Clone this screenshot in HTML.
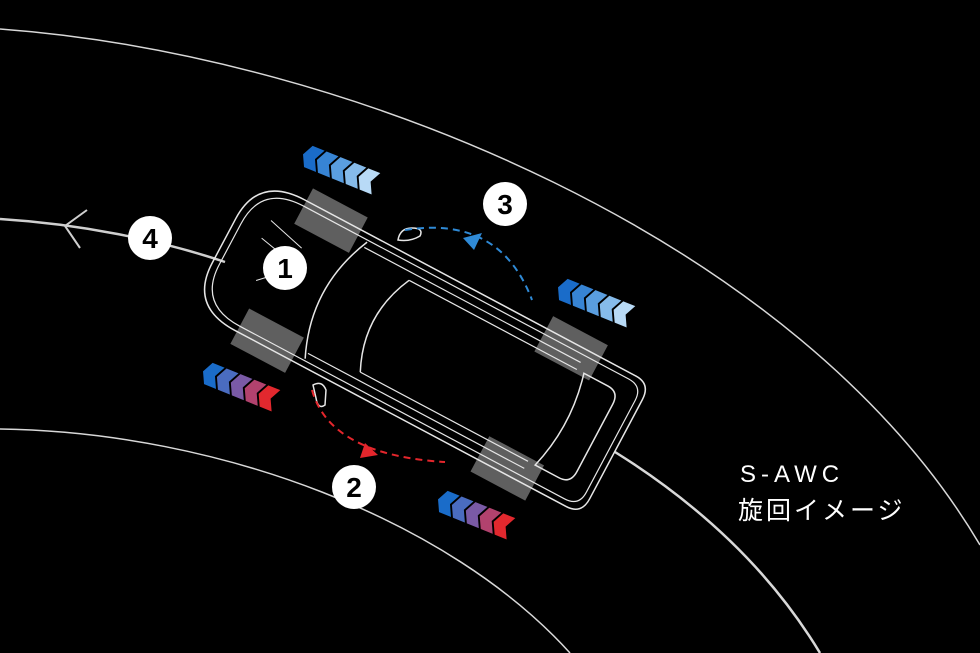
<!DOCTYPE html>
<html><head><meta charset="utf-8"><style>
html,body{margin:0;padding:0;background:#000;}
svg{display:block}
</style></head><body>
<svg width="980" height="653" viewBox="0 0 980 653" xmlns="http://www.w3.org/2000/svg">
<rect width="980" height="653" fill="#000"/>
<path d="M0,29 C350,55 800,240 980,545" fill="none" stroke="#d8d8d8" stroke-width="1.5"/>
<path d="M0,429 C220,432 450,520 570,653" fill="none" stroke="#d8d8d8" stroke-width="1.5"/>
<path d="M0,219 C80,224 160,240 225,262" fill="none" stroke="#cfcfcf" stroke-width="2.5"/>
<path d="M615,452 C700,505 770,570 820,653" fill="none" stroke="#d8d8d8" stroke-width="2.5"/>
<path d="M87,210 L65,226 L80,248" fill="none" stroke="#cfcfcf" stroke-width="2"/>

<g stroke="#000" stroke-width="1" transform="translate(307,143) rotate(22)">
<polygon fill="#1a6cc9" points="6,0 20,0 14,12 20,24 6,24 0,12"/>
<polygon fill="#3784d4" transform="translate(15,0)" points="6,0 20,0 14,12 20,24 6,24 0,12"/>
<polygon fill="#5a9edf" transform="translate(30,0)" points="6,0 20,0 14,12 20,24 6,24 0,12"/>
<polygon fill="#86bbea" transform="translate(45,0)" points="6,0 20,0 14,12 20,24 6,24 0,12"/>
<polygon fill="#b8daf6" transform="translate(60,0)" points="6,0 20,0 14,12 20,24 6,24 0,12"/>
</g>
<g stroke="#000" stroke-width="1" transform="translate(562,276) rotate(22)">
<polygon fill="#1a6cc9" points="6,0 20,0 14,12 20,24 6,24 0,12"/>
<polygon fill="#3784d4" transform="translate(15,0)" points="6,0 20,0 14,12 20,24 6,24 0,12"/>
<polygon fill="#5a9edf" transform="translate(30,0)" points="6,0 20,0 14,12 20,24 6,24 0,12"/>
<polygon fill="#86bbea" transform="translate(45,0)" points="6,0 20,0 14,12 20,24 6,24 0,12"/>
<polygon fill="#b8daf6" transform="translate(60,0)" points="6,0 20,0 14,12 20,24 6,24 0,12"/>
</g>
<g stroke="#000" stroke-width="1" transform="translate(207,360) rotate(22)">
<polygon fill="#1a6cc9" points="6,0 20,0 14,12 20,24 6,24 0,12"/>
<polygon fill="#4a6cc0" transform="translate(15,0)" points="6,0 20,0 14,12 20,24 6,24 0,12"/>
<polygon fill="#7a5aa6" transform="translate(30,0)" points="6,0 20,0 14,12 20,24 6,24 0,12"/>
<polygon fill="#b2426e" transform="translate(45,0)" points="6,0 20,0 14,12 20,24 6,24 0,12"/>
<polygon fill="#e2282e" transform="translate(60,0)" points="6,0 20,0 14,12 20,24 6,24 0,12"/>
</g>
<g stroke="#000" stroke-width="1" transform="translate(442,488) rotate(22)">
<polygon fill="#1a6cc9" points="6,0 20,0 14,12 20,24 6,24 0,12"/>
<polygon fill="#4a6cc0" transform="translate(15,0)" points="6,0 20,0 14,12 20,24 6,24 0,12"/>
<polygon fill="#7a5aa6" transform="translate(30,0)" points="6,0 20,0 14,12 20,24 6,24 0,12"/>
<polygon fill="#b2426e" transform="translate(45,0)" points="6,0 20,0 14,12 20,24 6,24 0,12"/>
<polygon fill="#e2282e" transform="translate(60,0)" points="6,0 20,0 14,12 20,24 6,24 0,12"/>
</g>

<g transform="translate(420,345) rotate(28)" fill="none" stroke="#e6e6e6" stroke-width="1.5">
  <rect x="-168" y="-88" width="62" height="40" fill="#707070" stroke="none" opacity="0.85"/>
  <rect x="-168" y="48" width="62" height="40" fill="#707070" stroke="none" opacity="0.85"/>
  <rect x="104" y="-88" width="62" height="40" fill="#707070" stroke="none" opacity="0.85"/>
  <rect x="104" y="48" width="62" height="40" fill="#707070" stroke="none" opacity="0.85"/>
  <path d="M-170,-74 L205,-74 Q222,-74 222,-56 L222,56 Q222,74 205,74 L-170,74 Q-222,74 -222,25 L-222,-25 Q-222,-74 -170,-74 Z"/>
  <path d="M-168,-68 L200,-68 Q216,-68 216,-52 L216,52 Q216,68 200,68 L-168,68 Q-215,68 -215,23 L-215,-23 Q-215,-68 -168,-68 Z" stroke-width="1.2"/>
  <path d="M-95,-66 Q-125,0 -95,66"/>
  <path d="M-95,-60 L150,-60 M-95,60 L150,60" stroke-width="1.2"/>
  <path d="M-40,-52 Q-65,0 -40,52"/>
  <path d="M-40,-52 L150,-52 M-40,52 L150,52" stroke-width="1.2"/>
  <path d="M158,-52 L185,-52 Q198,-52 198,-38 L198,38 Q198,52 185,52 L158,52 Q172,0 158,-52 Z"/>
  <path d="M-190,-40 L-150,-30 M-190,-20 L-140,-10 M-175,20 L-150,-5" stroke-width="1"/>
</g>

<path d="M398,240 Q400,228 412,228 Q424,228 420,236 Q410,242 398,240 Z" fill="none" stroke="#e6e6e6" stroke-width="1.5"/>
<path d="M313,385 Q322,380 326,390 L325,405 Q318,410 316,398 Z" fill="none" stroke="#e6e6e6" stroke-width="1.5"/>

<path d="M405,230 Q500,215 532,300" fill="none" stroke="#2f8ad6" stroke-width="2" stroke-dasharray="7,5"/>
<polygon points="463,238 482,233 474,250" fill="#2f8ad6"/>
<path d="M312,390 Q330,455 445,462" fill="none" stroke="#e4262c" stroke-width="2" stroke-dasharray="7,5"/>
<polygon points="365,443 378,455 360,458" fill="#e4262c"/>

<g font-family="Liberation Sans, sans-serif" font-weight="bold" font-size="28" text-anchor="middle" fill="#000">
<circle cx="285" cy="268" r="22" fill="#fff"/><text x="285" y="278">1</text>
<circle cx="354" cy="487" r="22" fill="#fff"/><text x="354" y="497">2</text>
<circle cx="505" cy="204" r="22" fill="#fff"/><text x="505" y="214">3</text>
<circle cx="150" cy="238" r="22" fill="#fff"/><text x="150" y="248">4</text>
</g>

<text x="740" y="482" fill="#fff" font-family="Liberation Sans, sans-serif" font-size="24" letter-spacing="5">S-AWC</text>
<text x="738" y="519" fill="#fff" font-family="Liberation Sans, 'Noto Sans CJK JP', sans-serif" font-size="25" letter-spacing="3">旋回イメージ</text>
</svg>
</body></html>
